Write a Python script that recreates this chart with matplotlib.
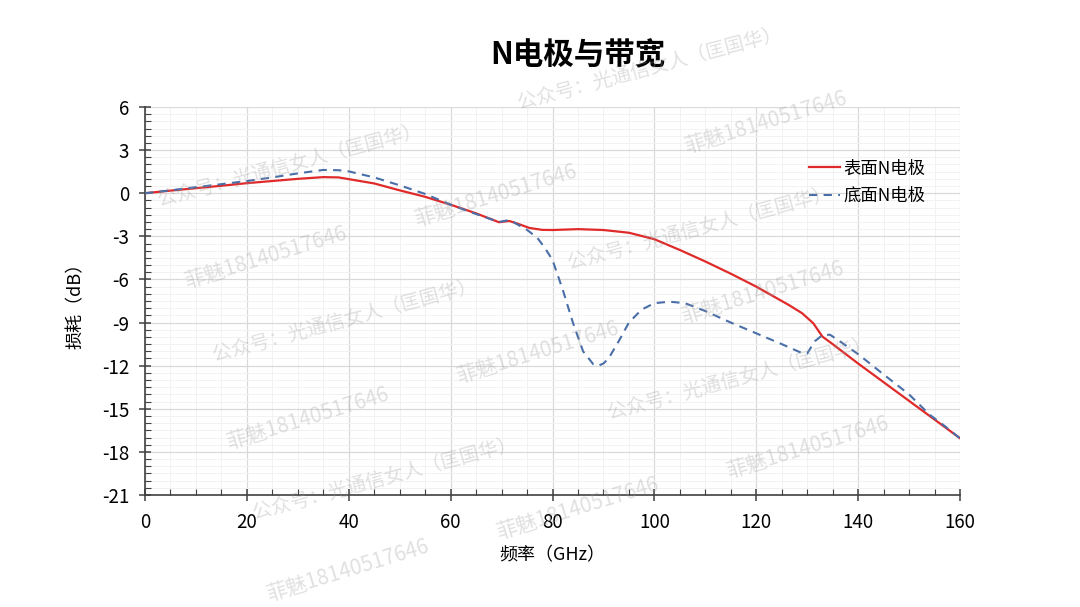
"""
N电极与带宽 -- insertion loss vs frequency, top vs bottom N electrode
"""
import matplotlib
matplotlib.use('Agg')
import matplotlib.pyplot as plt
from matplotlib.ticker import MultipleLocator

plt.rcParams['font.family'] = ['Noto Sans CJK SC', 'DejaVu Sans']
plt.rcParams['axes.unicode_minus'] = False

freq_top = [0, 5, 10, 15, 20, 25, 30, 35, 38, 40, 45, 50, 55, 60, 65, 69.5, 71.5, 73,
            75.5, 78, 80, 85, 90, 95, 100, 105, 110, 115, 120, 126.5, 129,
            131.2, 133, 135, 140, 145, 150, 155, 160]
loss_top = [0.0, 0.18, 0.35, 0.52, 0.7, 0.85, 1.0, 1.12, 1.1, 0.98, 0.68, 0.2, -0.25,
            -0.8, -1.4, -2.02, -1.93, -2.1, -2.42, -2.55, -2.56, -2.5, -2.56, -2.75,
            -3.2, -3.95, -4.75, -5.6, -6.5, -7.8, -8.35, -9.05, -9.98, -10.5,
            -11.85, -13.15, -14.45, -15.75, -17.05]

freq_bot = [0, 5, 10, 15, 20, 25, 30, 35, 38, 40, 45, 50, 55, 60, 65, 69.5, 71.6, 73,
            75, 77, 78.5, 80, 82, 84, 86, 88, 89, 90, 91, 93, 95, 97.5, 100, 103, 106,
            110, 115, 120, 125, 128.5, 130, 131.5, 133, 134.5, 137, 140, 145.5, 150,
            154, 157, 160]
loss_bot = [0.0, 0.2, 0.42, 0.63, 0.85, 1.1, 1.38, 1.62, 1.6, 1.52, 1.1, 0.55, -0.05,
            -0.8, -1.45, -2.0, -1.86, -2.15, -2.55, -3.1, -3.8, -4.65, -6.7, -9.0,
            -11.0, -11.9, -12.0, -11.85, -11.5, -10.3, -9.0, -8.1, -7.65, -7.55, -7.65,
            -8.2, -9.0, -9.75, -10.5, -11.05, -11.15, -10.3, -9.87, -9.85, -10.45,
            -11.2, -12.75, -14.0, -15.4, -16.2, -17.06]

WATERMARK_A = '公众号：光通信女人（匡国华）'
WATERMARK_B = '菲魅18140517646'
wm_a_pos = [(650, 68), (290, 165), (700, 228), (345, 320), (740, 378), (385, 478)]
wm_b_pos = [(765, 122), (495, 195), (265, 257), (762, 292), (537, 352), (307, 418),
            (807, 447), (577, 508), (347, 570)]

W, H = 1080, 607
fig = plt.figure(figsize=(W / 100, H / 100), dpi=100)
ax = fig.add_axes([145 / W, 1 - 495 / H, 815 / W, 388 / H])

ax.plot(freq_top, loss_top, color='#e02a2a', lw=1.6, label='表面N电极', zorder=3)
ax.plot(freq_bot, loss_bot, color='#4a6fa8', lw=1.5, ls=(0, (4, 3)),
        label='底面N电极', zorder=3)

ax.set_xlim(0, 160)
ax.set_ylim(-21, 6)
ax.xaxis.set_major_locator(MultipleLocator(20))
ax.xaxis.set_minor_locator(MultipleLocator(5))
ax.yaxis.set_major_locator(MultipleLocator(3))
ax.yaxis.set_minor_locator(MultipleLocator(0.5))

ax.grid(which='major', color='#d9d9d9', lw=0.9)
ax.grid(which='minor', color='#f2f2f2', lw=0.7)
ax.set_axisbelow(True)

for s in ('top', 'right'):
    ax.spines[s].set_visible(False)
for s in ('left', 'bottom'):
    ax.spines[s].set_color('#404040')
    ax.spines[s].set_linewidth(1.2)

ax.tick_params(which='major', direction='inout', length=9, width=1.1,
               color='#404040', labelsize=13.5)
ax.tick_params(axis='x', which='major', pad=8)
ax.tick_params(axis='y', which='major', pad=7)
ax.tick_params(which='minor', direction='in', length=4, width=0.8, color='#404040')

ax.set_xlabel('频率（GHz）', fontsize=13, labelpad=9)
ax.set_ylabel('损耗（dB）', fontsize=13, labelpad=12)

fig.text(578 / W, 1 - 55 / H, 'N电极与带宽', ha='center', va='center',
         fontsize=22, fontweight='bold')

leg = ax.legend(loc='upper left', bbox_to_anchor=(0.795, 0.905), frameon=False,
                fontsize=12.5, handlelength=1.8, handletextpad=0.2, labelspacing=0.55)

# watermarks (faint, rotated)
for x, y in wm_a_pos:
    fig.text(x / W, 1 - y / H, WATERMARK_A, ha='center', va='center', rotation=15,
             fontsize=14, color='#9a9a9a', alpha=0.3, zorder=10)
for x, y in wm_b_pos:
    fig.text(x / W, 1 - y / H, WATERMARK_B, ha='center', va='center', rotation=17,
             fontsize=15, color='#9a9a9a', alpha=0.3, zorder=10)

fig.savefig('out.png', dpi=100, facecolor='white')
